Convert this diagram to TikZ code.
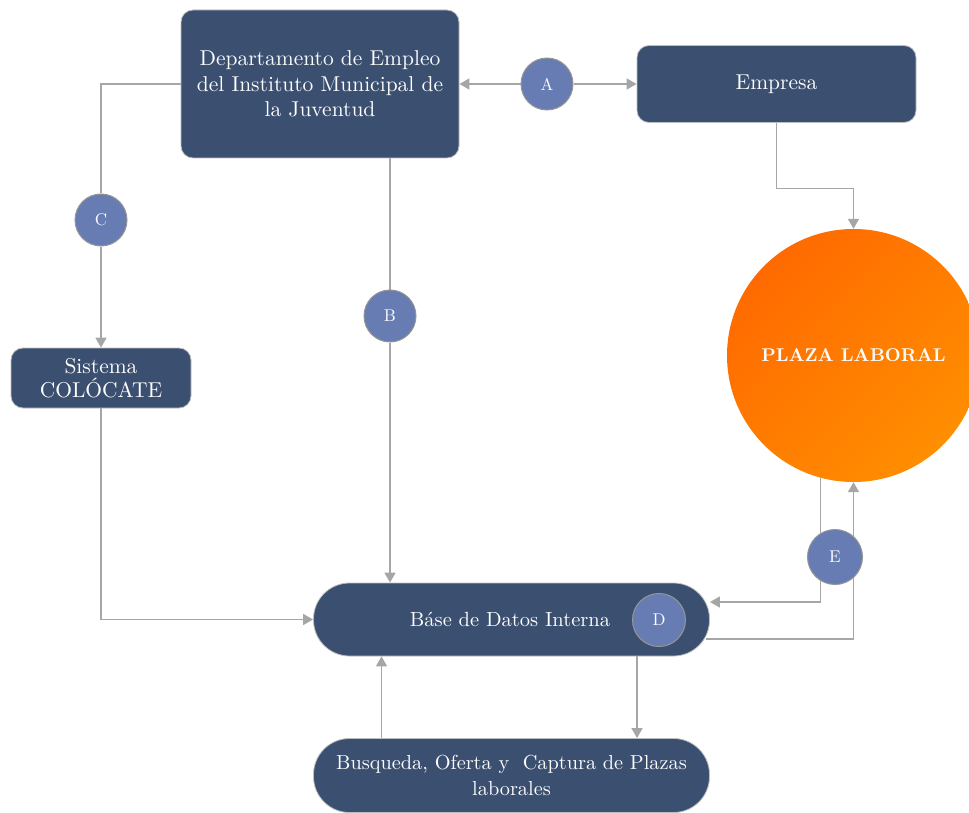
\documentclass[tikz,border=0pt]{standalone}
\usepackage{fontspec}
\setmainfont{lmroman10-regular.otf}[BoldFont=lmroman10-bold.otf]
\usetikzlibrary{arrows.meta,calc,backgrounds}
\definecolor{boxblue}{RGB}{59,79,112}
\definecolor{circblue}{RGB}{103,124,179}
\definecolor{linegray}{RGB}{166,166,166}
\definecolor{bordergray}{RGB}{190,190,190}
\definecolor{circborder}{RGB}{150,150,150}
\definecolor{orangeA}{RGB}{255,106,0}
\definecolor{orangeB}{RGB}{255,142,0}
\definecolor{offwhite}{RGB}{252,252,252}
\begin{document}
\begin{tikzpicture}[x=1pt,y=-1pt,
  bluebox/.style={draw=bordergray, line width=0.8pt, fill=boxblue, text=offwhite,
    rounded corners=12pt, inner sep=0pt, align=center,
    font=\fontsize{21.5}{25.5}\selectfont},
  pill/.style={bluebox, rounded corners=36pt, minimum width=396pt},
  letter/.style={circle, draw=circborder, line width=1pt, fill=circblue, text=offwhite,
    inner sep=0pt, font=\fontsize{17}{20}\selectfont},
  conn/.style={draw=linegray, line width=1.5pt},
  arr/.style={conn, -{Triangle[length=10pt,width=11pt]}}
]
\useasboundingbox (0,0) rectangle (969,813);

\node[bluebox, minimum width=278pt, minimum height=148pt] (dept) at (320,84)
  {Departamento de Empleo\\del Instituto Municipal de\\la Juventud};
\node[bluebox, minimum width=279pt, minimum height=77pt] (emp) at (776.5,84) {Empresa};
\node[bluebox, minimum width=180pt, minimum height=60pt, font=\fontsize{21.5}{24}\selectfont] (sis) at (101,378) {Sistema\\COLÓCATE};
\node[pill, minimum height=73pt, font=\fontsize{20.5}{24}\selectfont] (db) at (511.5,619.5) {\hspace*{-3pt}Báse de Datos Interna};
\node[pill, minimum height=74pt, font=\fontsize{20.3}{26}\selectfont] (bot) at (511.5,775.5)
  {Busqueda, Oferta y\ \ Captura de Plazas\\laborales};
\node[circle, inner sep=0pt, minimum size=253pt, top color=orangeA, bottom color=orangeB,
  shading angle=45, text=offwhite, font=\fontsize{18.5}{22}\selectfont\bfseries]
  (plaza) at (853.5,355.5) {PLAZA LABORAL};

\node[letter, minimum size=52pt] (A) at (547,84) {A};
\node[letter, minimum size=52pt] (B) at (390,316) {B};
\node[letter, minimum size=52pt] (C) at (101,220) {C};
\node[letter, minimum size=53pt] (D) at (659,620) {D};
\node[letter, minimum size=55pt] (E) at (835,557) {E};

\begin{scope}[on background layer]
\draw[arr] (A) -- (dept.east);
\draw[arr] (A) -- (emp.west);
\draw[conn] (dept.west) -| (C);
\draw[arr] (C) -- (sis);
\draw[conn] (B |- dept.south) -- (B);
\draw[arr] (B) -- (B |- db.north);
\draw[arr] (sis) |- (db);
\draw[arr] ($(bot.north)+(-130,0)$) -- ($(db.south)+(-130,0)$);
\draw[arr] ($(db.south)+(125.5,0)$) -- ($(bot.north)+(125.5,0)$);
\draw[arr] (emp.south) -- ++(0,65.5) -| (plaza.north);
\draw[arr] (plaza.255.6) |- ($(db.east)+(0,-17.5)$);
\draw[arr] ($(db.east)+(-4,19.5)$) -| (plaza.south);
\end{scope}
\end{tikzpicture}
\end{document}
